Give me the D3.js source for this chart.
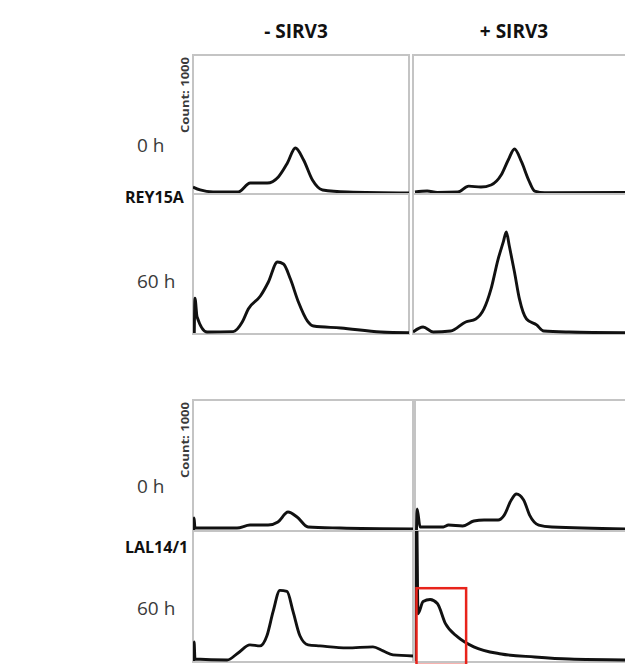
<!DOCTYPE html>
<html>
<head>
<meta charset="utf-8">
<script src="https://cdn.jsdelivr.net/npm/d3@7"></script>
<style>
  body { margin: 0; background: #fff; }
  svg { display: block; }
  .hdr { font-family: "Open Sans", "Liberation Sans", sans-serif; font-weight: bold; fill: #111; }
  .lbl { font-family: "Open Sans", "Liberation Sans", sans-serif; fill: #3a3a3a; }
</style>
</head>
<body>
<div id="chart"></div>
<script>
// column / row labels
var columns = ["- SIRV3", "+ SIRV3"];
var strains = ["REY15A", "LAL14/1"];
var times = ["0 h", "60 h"];
var countMax = 1000;

// histograms: [DNA content (0-100), count]
var rey0Minus = [[0,43],[3.3,22],[9.3,7],[20.9,7],[26.5,72],[34.4,72],[39.5,116],[43.7,217],[47.4,326],[51.2,239],[55.3,94],[60,22],[71.6,7],[100,0]];
var rey0Plus = [[0.9,7],[6.6,14],[11.3,4],[20.8,7],[25.9,50],[31.6,43],[36.3,58],[41,130],[44.3,239],[47.2,319],[50.5,225],[53.8,94],[56.6,14],[61.3,2],[100,4]];
var rey60Minus = [[0.6,0],[0.9,250],[1.9,115],[6.5,7],[18.6,10],[22.8,79],[25.6,173],[31.2,266],[34.9,367],[39.1,511],[41.9,496],[45.1,388],[48.8,223],[53,86],[55.8,50],[68.4,36],[87,7],[100,2]];
var rey60Plus = [[0,7],[4.7,43],[9.4,7],[17.5,14],[24.5,79],[29.2,101],[33,173],[36.3,317],[39.6,532],[42,655],[43.4,727],[44.8,626],[47.2,439],[49.5,245],[52.8,101],[57.5,58],[60.8,14],[72.6,7],[100,2]];
var lal0Minus = [[0.3,0],[0.5,92],[0.9,15],[20,15],[25.9,38],[34.1,38],[38.6,62],[43.2,138],[47.3,100],[52.3,23],[66.8,15],[100,8]];
var lal0Plus = [[0.7,0],[1,162],[2.4,23],[13.3,23],[15.7,38],[22.4,31],[27.6,69],[32.4,77],[39,77],[41.9,115],[45.2,231],[47.6,277],[51,231],[53.8,115],[58.1,38],[64.3,23],[100,8]];
var lal60Minus = [[0.3,0],[0.5,147],[0.9,15],[15.5,8],[20.5,62],[25.9,124],[30.5,116],[33.6,194],[36.4,380],[39.5,543],[42.7,535],[45.5,380],[48.6,194],[52.3,124],[57.7,116],[70,101],[81.8,109],[86.4,78],[90.9,47],[100,39]];
var lal60Plus = [[0.2,0],[0.4,1100],[0.8,1100],[1.4,364],[3.8,457],[7.1,473],[10.5,442],[14.3,287],[20,186],[27.6,109],[40.5,54],[56.2,31],[72.4,15],[100,8]];

// gate drawn in red on the LAL14/1 60 h + SIRV3 histogram
var gate = { x0: 0.7, x1: 24, countTop: 560, countBottom: -30 };

var histograms = [
  [[rey0Minus, rey0Plus], [rey60Minus, rey60Plus]],
  [[lal0Minus, lal0Plus], [lal60Minus, lal60Plus]]
];

var width = 625, height = 664;
var blocks = [
  { top: 55, rows: [139, 140], cols: [[193, 409], [413, 628]], strainY: 203, timeY: [152, 288] },
  { top: 400, rows: [131, 131], cols: [[193, 413], [415, 628]], strainY: 553, timeY: [493, 615] }
];

var svg = d3.select("#chart").append("svg")
  .attr("width", width)
  .attr("height", height);

// column headers
svg.selectAll("text.hdr").data(columns).enter().append("text")
  .attr("class", "hdr")
  .attr("x", function(d, i){ var c = blocks[0].cols[i]; return (c[0] + Math.min(c[1], 625)) / 2 - 5; })
  .attr("y", 38)
  .attr("text-anchor", "middle")
  .attr("font-size", 19)
  .text(function(d){ return d; });

var line = d3.line().curve(d3.curveMonotoneX);

blocks.forEach(function(b, bi){
  // strain label
  svg.append("text")
    .attr("class", "hdr")
    .attr("x", 125)
    .attr("y", b.strainY)
    .attr("font-size", 16)
    .text(strains[bi]);

  // "Count: 1000" axis label
  svg.append("text")
    .attr("class", "lbl")
    .attr("transform", "translate(189," + (b.top + 40) + ") rotate(-90)")
    .attr("text-anchor", "middle")
    .attr("font-size", 10)
    .attr("font-weight", "bold")
    .attr("fill", "#555")
    .attr("textLength", 76)
    .attr("lengthAdjust", "spacingAndGlyphs")
    .text("Count: " + countMax);

  var y0 = b.top;
  b.rows.forEach(function(rh, ri){
    svg.append("text")
      .attr("class", "lbl")
      .attr("x", 137)
      .attr("y", b.timeY[ri])
      .attr("font-size", 19)
      .text(times[ri]);

    b.cols.forEach(function(c, ci){
      var x = d3.scaleLinear().domain([0, 100]).range([c[0], c[1]]);
      var y = d3.scaleLinear().domain([0, countMax]).range([y0 + rh - 1, y0]);
      var id = "clip" + bi + ri + ci;
      svg.append("clipPath").attr("id", id)
        .append("rect")
        .attr("x", c[0]).attr("y", y0)
        .attr("width", c[1] - c[0]).attr("height", rh);

      svg.append("rect")
        .attr("x", c[0]).attr("y", y0)
        .attr("width", c[1] - c[0]).attr("height", rh)
        .attr("fill", "none")
        .attr("stroke", "#c4c4c4")
        .attr("stroke-width", 2);

      svg.append("path")
        .attr("clip-path", "url(#" + id + ")")
        .attr("d", line(histograms[bi][ri][ci].map(function(p){ return [x(p[0]), y(p[1])]; })))
        .attr("fill", "none")
        .attr("stroke", "#111")
        .attr("stroke-width", 2.9)
        .attr("stroke-linejoin", "round");

      if (bi === 1 && ri === 1 && ci === 1) {
        svg.append("rect")
          .attr("x", x(gate.x0))
          .attr("y", y(gate.countTop))
          .attr("width", x(gate.x1) - x(gate.x0))
          .attr("height", y(gate.countBottom) - y(gate.countTop))
          .attr("fill", "none")
          .attr("stroke", "#e8231b")
          .attr("stroke-width", 2.5);
      }
    });
    y0 += rh;
  });
});
</script>
</body>
</html>
